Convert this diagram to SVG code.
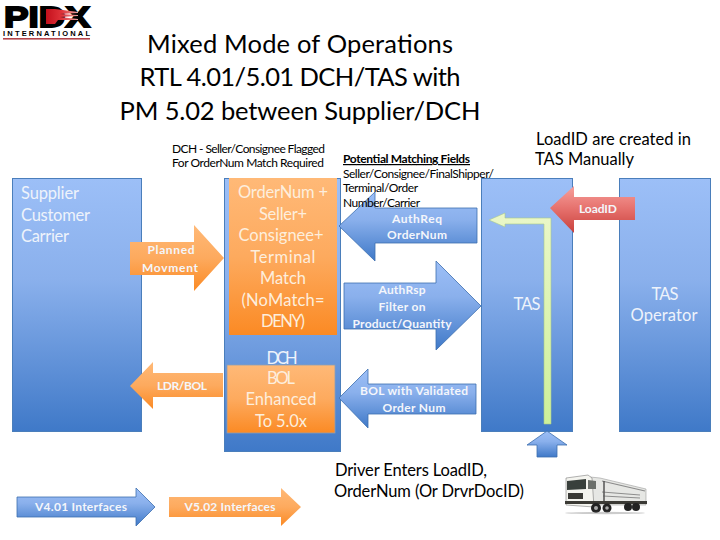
<svg xmlns="http://www.w3.org/2000/svg" width="720" height="540" viewBox="0 0 720 540">
<defs>
<linearGradient id="blue" x1="0" y1="0" x2="0" y2="1"><stop offset="0" stop-color="#9cbff7"/><stop offset="0.4" stop-color="#8ab0ec"/><stop offset="1" stop-color="#3f79c8"/></linearGradient>
<linearGradient id="orange" x1="0" y1="0" x2="0" y2="1"><stop offset="0" stop-color="#ffb977"/><stop offset="0.5" stop-color="#fdaa5e"/><stop offset="1" stop-color="#fb8a24"/></linearGradient>
<linearGradient id="red" x1="0" y1="0" x2="0" y2="1"><stop offset="0" stop-color="#f7a09c"/><stop offset="0.5" stop-color="#e56f6b"/><stop offset="1" stop-color="#c8403c"/></linearGradient>
<linearGradient id="green" x1="0" y1="0" x2="0" y2="1"><stop offset="0" stop-color="#eaf7c8"/><stop offset="1" stop-color="#cdf09a"/></linearGradient>
<linearGradient id="logored" x1="0" y1="0" x2="1" y2="0"><stop offset="0" stop-color="#c4101c"/><stop offset="0.5" stop-color="#e0333a"/><stop offset="1" stop-color="#e9a0a0"/></linearGradient>
</defs>
<style>
text{font-family:"Lato","Liberation Sans",sans-serif}
.box{fill:url(#blue);stroke:#4a7ebb;stroke-width:1}
.or{fill:url(#orange)}
.bl{fill:url(#blue);stroke:#3c6fae;stroke-width:.8}
.title{font-size:25.500px;text-anchor:middle;fill:#000}
.note{font-size:16.500px;fill:#000}
.small{font-size:12px;fill:#000}
.w{fill:#eef3fb;text-anchor:middle;font-size:16.500px}
.s{text-anchor:start}
.c{fill:#fdeedd}
.lab{fill:#f4f6fb;text-anchor:middle;font-size:12px;font-weight:700}
.lg{font-family:"Liberation Sans",sans-serif;font-weight:700;fill:#000}
</style>

<g id="logo">
<text class="lg" x="4" y="27" font-size="29" textLength="86" lengthAdjust="spacingAndGlyphs" stroke="#000" stroke-width="1.800">PIDX</text>
<path d="M46 9H55L78 12V13L60 14L78 15V16L60 17L78 19V20L58 20L55 24H46Z" fill="url(#logored)"/>
<text class="lg" x="3" y="36" font-size="7.500" textLength="87">INTERNATIONAL</text>
<rect x="3" y="38" width="87" height="1.600" fill="#b3454c"/>
</g>

<g id="title">
<text class="title" x="300" y="53" textLength="306">Mixed Mode of Operations</text>
<text class="title" x="300" y="86" textLength="321">RTL 4.01/5.01 DCH/TAS with</text>
<text class="title" x="300" y="120" textLength="361">PM 5.02 between Supplier/DCH</text>
</g>
<g id="note-dch"><text class="small" x="172" y="153" textLength="153">DCH - Seller/Consignee Flagged</text><text class="small" x="172" y="167" textLength="152">For OrderNum Match Required</text></g>
<g id="note-loadid"><text class="note" x="536" y="145" textLength="155">LoadID are created in</text><text class="note" x="535" y="165" textLength="99">TAS Manually</text></g>

<g id="supplier"><rect class="box" x="12.500" y="178.500" width="129" height="253"/>
<text class="w s" x="21" y="199" textLength="58">Supplier</text><text class="w s" x="21" y="221" textLength="69">Customer</text><text class="w s" x="21" y="242" textLength="48">Carrier</text></g>

<g id="dch"><rect class="box" x="224.500" y="178.500" width="116" height="273"/>
<text class="w" x="282" y="364" textLength="31">DCH</text></g>
<g id="order-match"><rect class="or" x="229" y="178" width="108" height="157"/>
<text class="w c" x="283" y="198" textLength="90">OrderNum +</text><text class="w c" x="283" y="220" textLength="48">Seller+</text><text class="w c" x="281" y="241" textLength="85">Consignee+</text><text class="w c" x="283" y="263" textLength="65">Terminal</text><text class="w c" x="283" y="284" textLength="46">Match</text><text class="w c" x="283" y="306" textLength="83">(NoMatch=</text><text class="w c" x="283" y="327" textLength="44">DENY)</text></g>
<g id="bol-enhanced"><rect class="or" x="227" y="365" width="108" height="68" stroke="#8e9fb5" stroke-width=".8"/>
<text class="w c" x="281" y="384" textLength="28">BOL</text><text class="w c" x="281" y="405" textLength="71">Enhanced</text><text class="w c" x="281" y="427" textLength="52">To 5.0x</text></g>

<g id="tas"><rect class="box" x="481.500" y="178.500" width="91" height="253"/><text class="w" x="527" y="310" textLength="27">TAS</text></g>
<g id="tas-operator"><rect class="box" x="619.500" y="178.500" width="91" height="253"/><text class="w" x="665" y="300" textLength="27">TAS</text><text class="w" x="664" y="321" textLength="67">Operator</text></g>

<g id="connectors">
<path class="or" d="M130 242H194V225L224 258L194 291V275H130Z"/>
<path class="or" d="M130 386L153 362V373H223V397H153V409Z"/>
<path class="bl" d="M339 226L375 192V208H477V243H375V261Z"/>
<path class="bl" d="M344 283H436V261L481 306L436 350V329H344Z"/>
<path class="bl" d="M339 398L368 369V384H476V414H368V428Z"/>
<path fill="url(#red)" d="M550 208L574 186V197H635V220H574V233Z"/>
<path fill="url(#green)" stroke="#a9c98a" stroke-width=".6" d="M489 220L505 213V218H551V424H544V224H505V227Z"/>
<path class="bl" d="M547 431L567 445H557V457H537V445H527Z"/>
<path class="bl" d="M17 497H136V488L155 507L136 526V517H17Z"/>
<path class="or" d="M169 497H281V488L301 507L281 526V517H169Z"/>
</g>
<g id="connector-labels">
<text class="lab c" x="171" y="254" textLength="47">Planned</text><text class="lab c" x="170" y="272" textLength="56">Movment</text>
<text class="lab c" x="182" y="390" textLength="50">LDR/BOL</text>
<text class="lab" x="417" y="223" textLength="50">AuthReq</text><text class="lab" x="417" y="239" textLength="60">OrderNum</text>
<text class="lab" x="402" y="294" textLength="47">AuthRsp</text><text class="lab" x="402" y="311" textLength="47">Filter on</text><text class="lab" x="402" y="328" textLength="99">Product/Quantity</text>
<text class="lab" x="414" y="395" textLength="108">BOL with Validated</text><text class="lab" x="414" y="412" textLength="63">Order Num</text>
<text class="lab" x="598" y="213" textLength="38">LoadID</text>
<text class="lab" x="81" y="511" textLength="92">V4.01 Interfaces</text>
<text class="lab c" x="230" y="511" textLength="91">V5.02 Interfaces</text>
</g>

<g id="note-fields">
<text class="small" x="343" y="163" font-weight="700" text-decoration="underline" textLength="127">Potential Matching Fields</text>
<text class="small" x="343" y="178" textLength="151">Seller/Consignee/FinalShipper/</text>
<text class="small" x="343" y="192" textLength="75">Terminal/Order</text>
<text class="small" x="343" y="207" textLength="77">Number/Carrier</text>
</g>
<g id="note-driver"><text class="note" x="335" y="476" textLength="152">Driver Enters LoadID,</text><text class="note" x="334" y="497" textLength="190">OrderNum (Or DrvrDocID)</text></g>

<g id="truck">
<path d="M590 477L600 478L646 489L646 505L590 505Z" fill="#e6e7e4" stroke="#8a8a8a" stroke-width=".5"/>
<path d="M602 481L645 491" stroke="#8a8a8a" stroke-width="1.200" fill="none"/>
<path d="M602 492L640 495M603 496L640 498" stroke="#666" stroke-width=".7" fill="none"/>
<path d="M604 481V504" stroke="#555" stroke-width="1.500"/>
<path d="M566 478L588 475L592 478L594 507L566 505Z" fill="#f4f4ef" stroke="#666" stroke-width=".5"/>
<path d="M567 481L586 479L586 489L567 490Z" fill="#39403c"/>
<path d="M588 480L596 481V489L588 489Z" fill="#6b6f6b"/>
<rect x="568" y="493" width="15" height="6" fill="#3a3a36"/>
<rect x="565" y="501" width="82" height="3" fill="#3b3a35"/>
<circle cx="596" cy="508" r="5" fill="#222"/><circle cx="607" cy="508" r="4.500" fill="#222"/><circle cx="628" cy="507" r="4" fill="#222"/><circle cx="636" cy="507" r="4" fill="#222"/><circle cx="596" cy="508" r="2" fill="#aaa"/><circle cx="607" cy="508" r="1.800" fill="#aaa"/>
<ellipse cx="605" cy="513" rx="40" ry="1.200" fill="#999" opacity=".5"/>
</g>
</svg>
